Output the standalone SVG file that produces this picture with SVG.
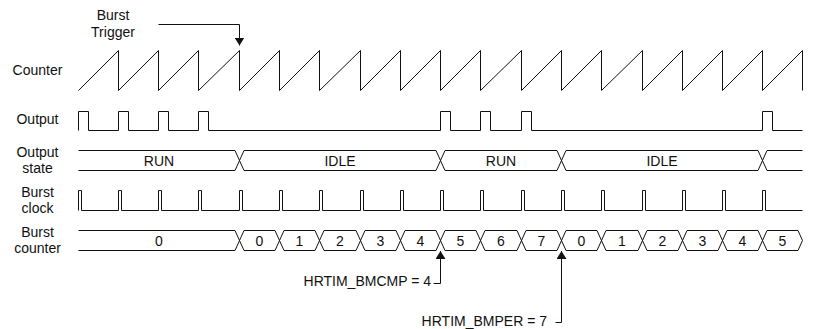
<svg xmlns="http://www.w3.org/2000/svg" width="814" height="329" viewBox="0 0 814 329">
<style>
  text { font-family: "Liberation Sans", Arial, sans-serif; font-size: 14px; fill: #111; }
  .lbl { text-anchor: middle; }
  .mid { text-anchor: middle; }
  .end { text-anchor: end; }
  .wave { fill: none; stroke: #111; stroke-width: 1; stroke-linejoin: miter; }
  .conn { fill: none; stroke: #111; stroke-width: 1; }
</style>
<defs>
  <marker id="arrow" markerUnits="userSpaceOnUse" markerWidth="9" markerHeight="10" refX="8" refY="5" orient="auto">
    <path d="M0,0 L8,5 L0,10 z" fill="#111"/>
  </marker>
</defs>
<rect width="814" height="329" fill="#fff"/>

<g id="label-trigger">
  <text class="lbl" x="113" y="20">Burst</text>
  <text class="lbl" x="113" y="36.5">Trigger</text>
</g>

<g id="counter">
  <text class="lbl" x="37.5" y="75">Counter</text>
  <path class="wave" d="M78.5,90.5 L118.5,50.5 V90.5 L158.5,50.5 V90.5 L198.5,50.5 V90.5 L239.5,50.5 V90.5 L279.5,50.5 V90.5 L319.5,50.5 V90.5 L360.5,50.5 V90.5 L400.5,50.5 V90.5 L440.5,50.5 V90.5 L480.5,50.5 V90.5 L521.5,50.5 V90.5 L561.5,50.5 V90.5 L601.5,50.5 V90.5 L642.5,50.5 V90.5 L682.5,50.5 V90.5 L722.5,50.5 V90.5 L762.5,50.5 V90.5 L802.5,50.5 V90.5"/>
</g>

<g id="output">
  <text class="lbl" x="37.5" y="124">Output</text>
  <path class="wave" d="M78.5,130.5 V111.5 H88.5 V130.5 H118.5 V111.5 H128.5 V130.5 H158.5 V111.5 H168.5 V130.5 H198.5 V111.5 H208.5 V130.5 H440.5 V111.5 H450.5 V130.5 H480.5 V111.5 H490.5 V130.5 H521.5 V111.5 H531.5 V130.5 H762.5 V111.5 H772.5 V130.5 H802.5"/>
</g>

<g id="output-state">
  <text class="lbl" x="37.5" y="156.5">Output</text>
  <text class="lbl" x="37.5" y="172.5">state</text>
  <path class="wave" d="M78.5,150.5 H235 L244,170.5 H436 L445,150.5 H557 L566,170.5 H758 L767,150.5 H802.5"/>
  <path class="wave" d="M78.5,170.5 H235 L244,150.5 H436 L445,170.5 H557 L566,150.5 H758 L767,170.5 H802.5"/>
  <text class="mid" x="159" y="165.5">RUN</text>
  <text class="mid" x="340" y="165.5">IDLE</text>
  <text class="mid" x="501" y="165.5">RUN</text>
  <text class="mid" x="662" y="165.5">IDLE</text>
</g>

<g id="burst-clock">
  <text class="lbl" x="37.5" y="196.5">Burst</text>
  <text class="lbl" x="37.5" y="212.5">clock</text>
  <path class="wave" d="M78.5,210.5 V190.5 H81.5 V210.5 H118.5 V190.5 H121.5 V210.5 H158.5 V190.5 H161.5 V210.5 H198.5 V190.5 H201.5 V210.5 H239.5 V190.5 H242.5 V210.5 H279.5 V190.5 H282.5 V210.5 H319.5 V190.5 H322.5 V210.5 H360.5 V190.5 H363.5 V210.5 H400.5 V190.5 H403.5 V210.5 H440.5 V190.5 H443.5 V210.5 H480.5 V190.5 H483.5 V210.5 H521.5 V190.5 H524.5 V210.5 H561.5 V190.5 H564.5 V210.5 H601.5 V190.5 H604.5 V210.5 H642.5 V190.5 H645.5 V210.5 H682.5 V190.5 H685.5 V210.5 H722.5 V190.5 H725.5 V210.5 H762.5 V190.5 H765.5 V210.5 H802.5"/>
</g>

<g id="burst-counter">
  <text class="lbl" x="37.5" y="236.5">Burst</text>
  <text class="lbl" x="37.5" y="252.5">counter</text>
  <path class="wave" d="M78.5,230.5 H235 L244,250.5 H275 L284,230.5 H315 L324,250.5 H356 L365,230.5 H396 L405,250.5 H436 L445,230.5 H476 L485,250.5 H517 L526,230.5 H557 L566,250.5 H597 L606,230.5 H638 L647,250.5 H678 L687,230.5 H718 L727,250.5 H758 L767,230.5 H798 L802.5,240.5"/>
  <path class="wave" d="M78.5,250.5 H235 L244,230.5 H275 L284,250.5 H315 L324,230.5 H356 L365,250.5 H396 L405,230.5 H436 L445,250.5 H476 L485,230.5 H517 L526,250.5 H557 L566,230.5 H597 L606,250.5 H638 L647,230.5 H678 L687,250.5 H718 L727,230.5 H758 L767,250.5 H798 L802.5,240.5"/>
  <text class="mid" x="159" y="245.5">0</text>
  <text class="mid" x="259.5" y="245.5">0</text>
  <text class="mid" x="299.5" y="245.5">1</text>
  <text class="mid" x="340" y="245.5">2</text>
  <text class="mid" x="380.5" y="245.5">3</text>
  <text class="mid" x="420.5" y="245.5">4</text>
  <text class="mid" x="460.5" y="245.5">5</text>
  <text class="mid" x="501" y="245.5">6</text>
  <text class="mid" x="541.5" y="245.5">7</text>
  <text class="mid" x="581.5" y="245.5">0</text>
  <text class="mid" x="622" y="245.5">1</text>
  <text class="mid" x="662.5" y="245.5">2</text>
  <text class="mid" x="702.5" y="245.5">3</text>
  <text class="mid" x="742.5" y="245.5">4</text>
  <text class="mid" x="782.5" y="245.5">5</text>
</g>

<g id="label-bmcmp">
  <text class="end" x="431" y="285.5">HRTIM_BMCMP = 4</text>
</g>
<g id="label-bmper">
  <text class="end" x="547" y="325.5">HRTIM_BMPER = 7</text>
</g>

<g id="connectors">
  <path class="conn" d="M158.5,24.5 H239.5 V45.5" marker-end="url(#arrow)"/>
  <path class="conn" d="M433.5,283.5 H440.5 V251" marker-end="url(#arrow)"/>
  <path class="conn" d="M555.5,322.5 H561.5 V251" marker-end="url(#arrow)"/>
</g>
</svg>
